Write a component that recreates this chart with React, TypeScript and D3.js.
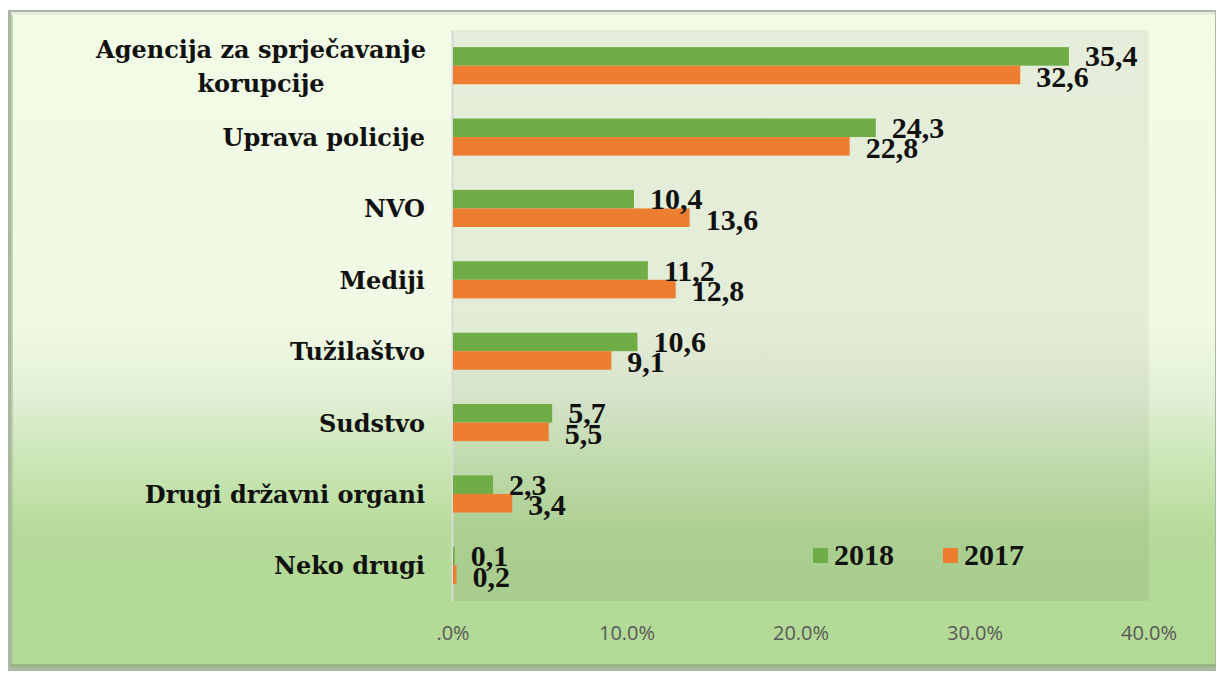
import React from "react";
import * as d3 from "d3";

const categories = [
  "Agencija za sprječavanje korupcije",
  "Uprava policije",
  "NVO",
  "Mediji",
  "Tužilaštvo",
  "Sudstvo",
  "Drugi državni organi",
  "Neko drugi",
];
const categoryLines: string[][] = [
  ["Agencija za sprječavanje", "korupcije"],
  ["Uprava policije"],
  ["NVO"],
  ["Mediji"],
  ["Tužilaštvo"],
  ["Sudstvo"],
  ["Drugi državni organi"],
  ["Neko drugi"],
];
const values2018 = [35.4, 24.3, 10.4, 11.2, 10.6, 5.7, 2.3, 0.1];
const values2017 = [32.6, 22.8, 13.6, 12.8, 9.1, 5.5, 3.4, 0.2];
const labels2018 = ["35,4", "24,3", "10,4", "11,2", "10,6", "5,7", "2,3", "0,1"];
const labels2017 = ["32,6", "22,8", "13,6", "12,8", "9,1", "5,5", "3,4", "0,2"];
const xTicks = [0, 10, 20, 30, 40];
const seriesNames = ["2018", "2017"];
const seriesColors = ["#70ad47", "#ed7d31"];

export default function App() {
  const W = 1220;
  const H = 673;
  const plot = { left: 453, right: 1149, top: 30, bottom: 601 };

  const x = d3.scaleLinear().domain([0, 40]).range([plot.left, plot.right]);
  const y = d3
    .scaleBand<string>()
    .domain(categories)
    .range([plot.top, plot.bottom])
    .paddingInner(0.48)
    .paddingOuter(0.24);
  const inner = d3
    .scaleBand<string>()
    .domain(seriesNames)
    .range([0, y.bandwidth()]);

  const serif = "'Liberation Serif', 'Times New Roman', serif";
  const labelFont = "'DejaVu Serif', Cambria, serif";
  const fmtTick = (d: number) => (d === 0 ? ".0%" : d.toFixed(1) + "%");

  return (
    <svg
      width={W}
      height={H}
      style={{ position: "absolute", left: 0, top: 0 }}
      xmlns="http://www.w3.org/2000/svg"
    >
      <defs>
        <linearGradient id="bg" x1="0" y1="0" x2="0" y2="1">
          <stop offset="0" stopColor="#f2fbe6" />
          <stop offset="0.48" stopColor="#f0f9e3" />
          <stop offset="0.58" stopColor="#e3f0d7" />
          <stop offset="0.7" stopColor="#c8e5b2" />
          <stop offset="0.8" stopColor="#b5da99" />
          <stop offset="1" stopColor="#b2da95" />
        </linearGradient>
      </defs>
      <rect x={0} y={0} width={W} height={H} fill="#ffffff" />
      {/* outer frame */}
      <rect x={8} y={10} width={1208} height={661} fill="#a9b99f" />
      <rect x={11} y={12} width={1204} height={655} fill="url(#bg)" />
      <rect x={11} y={12} width={2} height={655} fill="#a5b59b" opacity={0.6} />
      <rect x={11} y={12} width={1204} height={3} fill="#e6e8df" opacity={0.9} />
      <rect x={11} y={664} width={1204} height={3} fill="#8aa67c" opacity={0.7} />

      {/* plot area */}
      <rect
        x={plot.left - 1}
        y={plot.top}
        width={plot.right - plot.left + 1}
        height={plot.bottom - plot.top}
        fill="#000000"
        opacity={0.05}
      />
      <line
        x1={plot.left - 0.5}
        x2={plot.left - 0.5}
        y1={plot.top}
        y2={plot.bottom}
        stroke="#d9d9d9"
        strokeWidth={2}
      />

      {/* bars */}
      {categories.map((c, i) => {
        const y0 = y(c)!;
        const yG = y0 + inner("2018")!;
        const yO = y0 + inner("2017")!;
        const bh = inner.bandwidth();
        return (
          <g key={c}>
            <rect
              x={x(0)}
              y={yG}
              width={x(values2018[i]) - x(0)}
              height={bh}
              fill={seriesColors[0]}
            />
            <rect
              x={x(0)}
              y={yO}
              width={x(values2017[i]) - x(0)}
              height={bh}
              fill={seriesColors[1]}
            />
          </g>
        );
      })}
      {/* value labels */}
      {categories.map((c, i) => {
        const y0 = y(c)!;
        const yG = y0 + inner("2018")!;
        const yO = y0 + inner("2017")!;
        const bh = inner.bandwidth();
        return (
          <g key={c}>
            <text
              x={x(values2018[i]) + 16}
              y={yG + bh / 2 + 10}
              fontFamily={serif}
              fontWeight="bold"
              fontSize={30}
              fill="#111"
            >
              {labels2018[i]}
            </text>
            <text
              x={x(values2017[i]) + 16}
              y={yO + bh / 2 + 12}
              fontFamily={serif}
              fontWeight="bold"
              fontSize={30}
              fill="#111"
            >
              {labels2017[i]}
            </text>
          </g>
        );
      })}

      {/* category labels */}
      {categories.map((c, i) => {
        const lines = categoryLines[i];
        const cy = y(c)! + y.bandwidth() / 2;
        const lh = 34;
        const start = cy - ((lines.length - 1) * lh) / 2;
        return (
          <text
            key={c}
            textAnchor={lines.length > 1 ? "middle" : "end"}
            fontFamily={labelFont}
            fontWeight="bold"
            fontSize={24}
            fill="#111"
          >
            {lines.map((ln, j) => (
              <tspan
                key={j}
                x={lines.length > 1 ? 261 : 425}
                y={start + j * lh + 9}
              >
                {ln}
              </tspan>
            ))}
          </text>
        );
      })}

      {/* x tick labels */}
      {xTicks.map((t) => (
        <text
          key={t}
          x={x(t)}
          y={640}
          textAnchor="middle"
          fontFamily="'Open Sans', 'Noto Sans', sans-serif"
          fontSize={20}
          fill="#595959"
        >
          {fmtTick(t)}
        </text>
      ))}

      {/* legend */}
      {seriesNames.map((s, i) => {
        const lx = 813 + i * 130;
        return (
          <g key={s}>
            <rect x={lx} y={548} width={15} height={15} fill={seriesColors[i]} />
            <text
              x={lx + 21}
              y={565}
              fontFamily={serif}
              fontWeight="bold"
              fontSize={30}
              fill="#111"
            >
              {s}
            </text>
          </g>
        );
      })}
    </svg>
  );
}
